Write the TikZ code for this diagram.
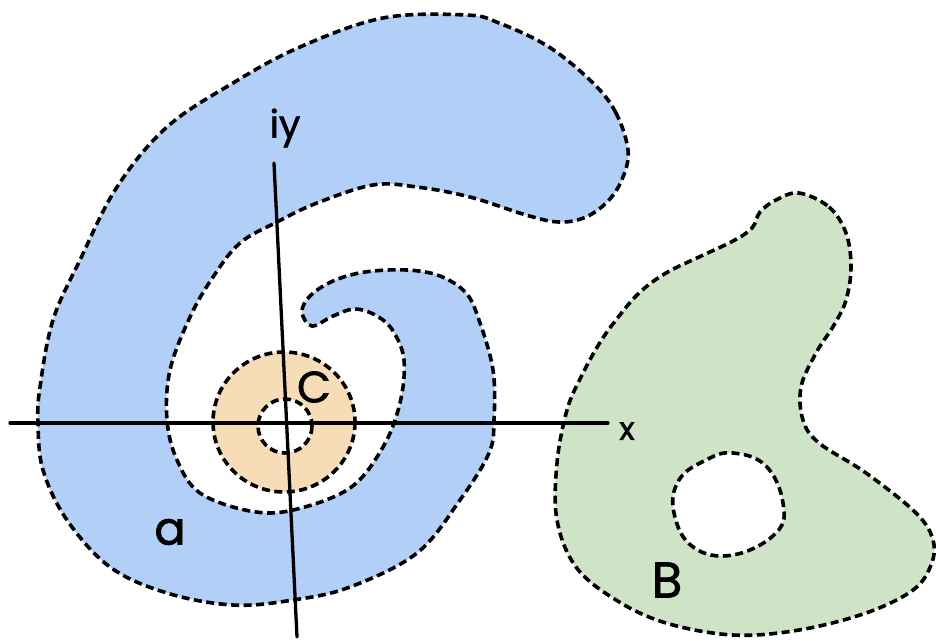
\documentclass[tikz,border=0pt]{standalone}
\usepackage{fontspec}
\newfontfamily\handfont{Poppins}[FakeBold=1.5]
\definecolor{regionA}{RGB}{178,207,248}
\definecolor{regionB}{RGB}{207,228,198}
\definecolor{regionC}{RGB}{246,221,184}
\begin{document}
\begin{tikzpicture}[x=1pt, y=-1pt,
    border/.style={line width=3.6pt, dash pattern=on 8pt off 4.5pt},
    axis/.style={line width=3.3pt, line cap=round},
    lbl/.style={font=\handfont\fontsize{46}{46}\selectfont, inner sep=0pt}]
    \useasboundingbox (0,0) rectangle (936,640);
    % Region A (spiral)
    \fill[regionA] plot[smooth cycle, tension=0.6] coordinates {
        (628,150) (616,113) (593,83) (549,47) (499,23) (466,15) (383,18) (300,47)
        (233,83) (167,127) (117,187) (80,260) (53,320) (40,387) (38,423) (43,470)
        (67,520) (110,567) (167,593) (233,605) (293,600) (350,587) (417,553) (460,500)
        (489,453) (494,420) (493,370) (479,320) (466,293) (440,276) (407,270) (365,272)
        (333,281) (310,296) (302,312) (312,326) (333,316) (355,309) (377,316) (393,331)
        (404,360) (400,403) (383,447) (350,488) (293,510) (250,511) (200,493) (177,460)
        (167,420) (170,370) (190,317) (213,277) (240,243) (277,222) (317,203) (373,185)
        (417,187) (470,197) (526,215) (559,222) (586,217) (609,200) (623,177)};
    \draw[border] plot[smooth cycle, tension=0.6] coordinates {
        (628,150) (616,113) (593,83) (549,47) (499,23) (466,15) (383,18) (300,47)
        (233,83) (167,127) (117,187) (80,260) (53,320) (40,387) (38,423) (43,470)
        (67,520) (110,567) (167,593) (233,605) (293,600) (350,587) (417,553) (460,500)
        (489,453) (494,420) (493,370) (479,320) (466,293) (440,276) (407,270) (365,272)
        (333,281) (310,296) (302,312) (312,326) (333,316) (355,309) (377,316) (393,331)
        (404,360) (400,403) (383,447) (350,488) (293,510) (250,511) (200,493) (177,460)
        (167,420) (170,370) (190,317) (213,277) (240,243) (277,222) (317,203) (373,185)
        (417,187) (470,197) (526,215) (559,222) (586,217) (609,200) (623,177)};
    % Region B (with a hole)
    \fill[regionB, even odd rule]
        plot[smooth cycle, tension=0.6] coordinates {
        (799,193) (829,207) (846,233) (851,267) (846,300) (834,325) (816,353) (801,387)
        (803,420) (819,443) (866,473) (916,513) (933,540) (931,565) (913,590) (866,613)
        (799,630) (733,635) (666,623) (616,600) (576,567) (557,520) (557,463) (567,410)
        (581,377) (599,344) (616,320) (639,293) (666,273) (699,257) (733,241) (752,228)
        (760,212) (776,200)}
        plot[smooth cycle, tension=0.7] coordinates {
        (733,453) (766,466) (783,503) (776,533) (733,555) (693,547) (674,513) (679,480) (706,460)};
    \draw[border] plot[smooth cycle, tension=0.6] coordinates {
        (799,193) (829,207) (846,233) (851,267) (846,300) (834,325) (816,353) (801,387)
        (803,420) (819,443) (866,473) (916,513) (933,540) (931,565) (913,590) (866,613)
        (799,630) (733,635) (666,623) (616,600) (576,567) (557,520) (557,463) (567,410)
        (581,377) (599,344) (616,320) (639,293) (666,273) (699,257) (733,241) (752,228)
        (760,212) (776,200)};
    \draw[border] plot[smooth cycle, tension=0.7] coordinates {
        (733,453) (766,466) (783,503) (776,533) (733,555) (693,547) (674,513) (679,480) (706,460)};
    % Region C (annulus)
    \fill[regionC, even odd rule] (284,422) ellipse [x radius=71, y radius=70]
        (285,426) circle [radius=27];
    \draw[border] (284,422) ellipse [x radius=71, y radius=70];
    \draw[border] (285,426) circle [radius=27];
    % Axes
    \coordinate (xstart) at (10,423);
    \coordinate (xend) at (608,423);
    \coordinate (ystart) at (297,637);
    \coordinate (yend) at (274,163);
    \draw[axis] (xstart) -- (xend);
    \draw[axis] (ystart) -- (yend);
    % Labels
    \node[lbl, font=\handfont\fontsize{38}{38}\selectfont] (ylabel) at (285,128) {iy};
    \node[lbl, font=\handfont\fontsize{32}{32}\selectfont] (xlabel) at (627,431) {x};
    \node[lbl] (labelA) at (170,532) {a};
    \node[lbl, font=\handfont\fontsize{50}{50}\selectfont] (labelB) at (667,580) {B};
    \node[lbl, font=\handfont\fontsize{44}{44}\selectfont] (labelC) at (314,387) {C};
\end{tikzpicture}
\end{document}
